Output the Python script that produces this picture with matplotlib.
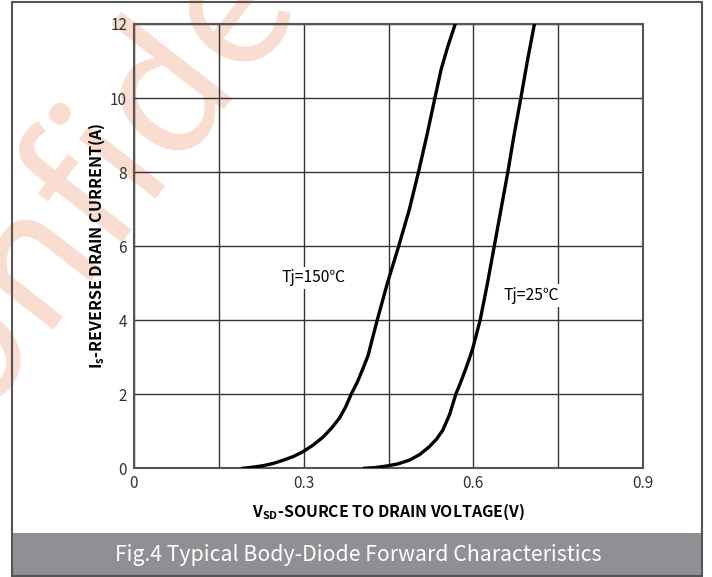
import matplotlib
matplotlib.use("Agg")
import matplotlib.pyplot as plt
from matplotlib.patches import Rectangle

plt.rcParams['font.family'] = ['Noto Sans CJK SC', 'DejaVu Sans']
plt.rcParams['mathtext.fontset'] = 'custom'
plt.rcParams['mathtext.rm'] = 'Noto Sans CJK SC'
plt.rcParams['mathtext.bf'] = 'Noto Sans CJK SC:bold'

# curves: Vsd (V) vs Is (A)
v_150 = [0.193, 0.21, 0.228, 0.246, 0.264, 0.282, 0.299, 0.317, 0.334, 0.349,
         0.363, 0.374, 0.384, 0.395, 0.405, 0.414, 0.421, 0.430, 0.448, 0.468,
         0.487, 0.503, 0.518, 0.532, 0.543, 0.555, 0.568]
i_150 = [0.0, 0.03, 0.07, 0.13, 0.22, 0.32, 0.45, 0.63, 0.84, 1.08,
         1.35, 1.65, 2.0, 2.33, 2.7, 3.05, 3.47, 4.0, 5.0, 6.0,
         7.0, 8.0, 9.0, 10.0, 10.77, 11.4, 12.0]
v_25 = [0.408, 0.427, 0.446, 0.467, 0.487, 0.505, 0.522, 0.535, 0.546, 0.558,
        0.569, 0.577, 0.585, 0.592, 0.599, 0.612, 0.625, 0.637, 0.649, 0.661,
        0.672, 0.684, 0.696, 0.708]
i_25 = [0.0, 0.02, 0.06, 0.12, 0.22, 0.37, 0.58, 0.79, 1.03, 1.45,
        2.0, 2.3, 2.62, 2.92, 3.24, 4.0, 5.0, 6.0, 7.0, 8.0,
        9.0, 10.0, 11.04, 12.0]

x_ticks = [0, 0.15, 0.3, 0.45, 0.6, 0.75, 0.9]
x_labels = ['0', '', '0.3', '', '0.6', '', '0.9']
y_ticks = [0, 2, 4, 6, 8, 10, 12]

fig = plt.figure(figsize=(7.12, 5.77), dpi=100)

# watermark, behind everything
fig.text(178/712, 1 - 75/577, 'Confidential', color='#f9ddd0', fontsize=128,
         rotation=52, ha='center', va='center', rotation_mode='anchor', zorder=-1)

# outer frame and caption band
fig.patches.append(Rectangle((12/712, 1/577), 690/712, 574/577, transform=fig.transFigure,
                             facecolor='none', edgecolor='#555555', lw=1.5, zorder=5))
fig.patches.append(Rectangle((12/712, 1/577), 690/712, 43/577, transform=fig.transFigure,
                             facecolor='#8f9094', edgecolor='none', zorder=4))
fig.text(358/712, 22/577, 'Fig.4 Typical Body-Diode Forward Characteristics',
         color='white', fontsize=15.3, ha='center', va='center', fontweight='light', zorder=6)

ax = fig.add_axes([134/712, 108.7/577, 509/712, 444.3/577])
ax.patch.set_alpha(0)
ax.plot(v_150, i_150, color='black', lw=2.4, zorder=3, solid_joinstyle='round')
ax.plot(v_25, i_25, color='black', lw=2.4, zorder=3, solid_joinstyle='round')

ax.set_xlim(0, 0.9)
ax.set_ylim(0, 12)
ax.set_xticks(x_ticks)
ax.set_xticklabels(x_labels)
ax.set_yticks(y_ticks)
ax.tick_params(length=0, labelsize=11, colors='#333333', pad=5)
ax.grid(True, color='#333333', lw=1)
for s in ax.spines.values():
    s.set_color('#555555')
    s.set_linewidth(1.5)

ax.text(0.318, 5.14, 'Tj=150℃', fontsize=11.3, ha='center', va='center', zorder=2,
        bbox=dict(facecolor='white', edgecolor='none', pad=2))
ax.text(0.702, 4.66, 'Tj=25℃', fontsize=11.3, ha='center', va='center', zorder=2,
        bbox=dict(facecolor='white', edgecolor='none', pad=2))

ax.set_xlabel(r'$\mathbf{V_{SD}}$' + '-SOURCE TO DRAIN VOLTAGE(V)', fontsize=11.4,
              fontweight='bold', labelpad=7)
ax.set_ylabel(r'$\mathbf{I_{s}}$' + '-REVERSE DRAIN CURRENT(A)', fontsize=11.6,
              fontweight='bold', labelpad=2)

fig.savefig('out.png', dpi=100)
